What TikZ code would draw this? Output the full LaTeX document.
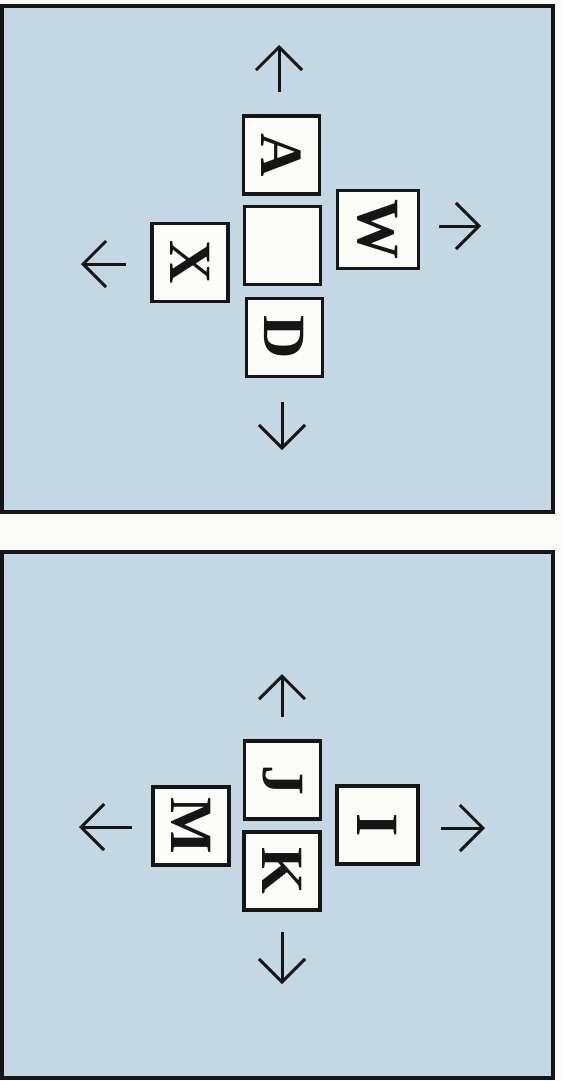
\documentclass[tikz,border=0pt]{standalone}
\usepackage{fontspec}
\setmainfont{Liberation Serif}
\usetikzlibrary{arrows.meta}
\definecolor{paper}{HTML}{FAFAF6}
\definecolor{panelblue}{HTML}{C3D7E5}
\definecolor{boxfill}{HTML}{FCFCF8}
\definecolor{ink}{HTML}{151515}
\begin{document}
\begin{tikzpicture}[x=1pt,y=-1pt,
  panel/.style={draw=ink,line width=3.2pt,fill=panelblue},
  tile/.style={draw=ink,line width=3.4pt,fill=boxfill,minimum width=78pt,minimum height=76pt,inner sep=0pt,
    font=\fontsize{60}{60}\selectfont\bfseries,text=ink,rotate=-90},
  wide/.style={minimum width=78pt,minimum height=81pt},
  move/.style={draw=ink,line width=3pt,-{Straight Barb[length=23pt,width=46pt,line width=3pt]}}]
\fill[paper] (0,0) rectangle (562,1081);
\useasboundingbox (0,0) rectangle (562,1081);
% panels
\draw[panel] (2,6) rectangle (553,512);
\draw[panel] (2,552) rectangle (553,1078);
% top panel
\node[tile] (A) at (281.5,155) {A};
\node[tile] (C) at (282.5,245.5) {};
\node[tile,wide] (W) at (378,229.5) {W};
\node[tile] (X) at (190,262.5) {X};
\node[tile] (D) at (284.5,337.5) {D};
\coordinate (u1s) at (279,92); \coordinate (u1e) at (279,45);
\coordinate (r1s) at (439,226); \coordinate (r1e) at (481,226);
\coordinate (l1s) at (126,264); \coordinate (l1e) at (81,264);
\coordinate (d1s) at (282,402); \coordinate (d1e) at (282,450);
\draw[move] (u1s) -- (u1e);
\draw[move] (r1s) -- (r1e);
\draw[move] (l1s) -- (l1e);
\draw[move] (d1s) -- (d1e);
% bottom panel
\node[tile] (J) at (282.5,780) {J};
\node[tile] (M) at (191,826) {M};
\node[tile] (K) at (282,871) {K};
\node[tile,wide] (I) at (377.5,825) {I};
\coordinate (u2s) at (282,717); \coordinate (u2e) at (282,674);
\coordinate (r2s) at (441,828); \coordinate (r2e) at (485,828);
\coordinate (l2s) at (132,827); \coordinate (l2e) at (79,827);
\coordinate (d2s) at (282,932); \coordinate (d2e) at (282,984);
\draw[move] (u2s) -- (u2e);
\draw[move] (r2s) -- (r2e);
\draw[move] (l2s) -- (l2e);
\draw[move] (d2s) -- (d2e);
\end{tikzpicture}
\end{document}
